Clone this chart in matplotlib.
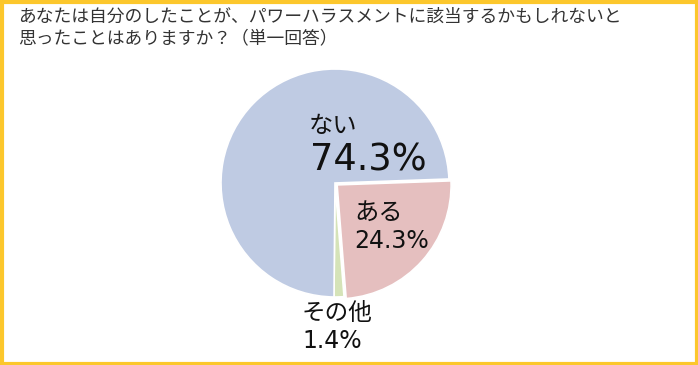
import matplotlib
matplotlib.use("Agg")
import matplotlib.pyplot as plt
from matplotlib.patches import Rectangle

plt.rcParams['font.family'] = ['Noto Sans CJK JP', 'DejaVu Sans']

title_lines = ["あなたは自分のしたことが、パワーハラスメントに該当するかもしれないと",
               "思ったことはありますか？（単一回答）"]
categories = ["その他", "ある", "ない"]
values = [1.4, 24.3, 74.3]
colors = ["#d5e3b8", "#e5bfbf", "#bfcbe3"]
explode = [0.0, 0.025, 0.0]

W, H = 698, 365
fig = plt.figure(figsize=(W / 100, H / 100), dpi=100)
fig.patch.set_facecolor("white")

# yellow frame
fig.patches.append(Rectangle((1.5 / W, 1.5 / H), 1 - 3 / W, 1 - 3 / H,
                             transform=fig.transFigure, fill=False,
                             edgecolor="#fcc72c", linewidth=3))

# title
fig.text(18 / W, 1 - 17 / H, title_lines[0], fontsize=12.8, color="#333333",
         ha="left", va="center")
fig.text(18 / W, 1 - 38 / H, title_lines[1], fontsize=12.8, color="#333333",
         ha="left", va="center")

cx, cy, r = 335, 183, 114
ax = fig.add_axes([(cx - r) / W, (H - cy - r) / H, 2 * r / W, 2 * r / H])
wedges, _ = ax.pie(values, colors=colors, explode=explode, startangle=-90.5,
                   counterclock=True,
                   wedgeprops=dict(edgecolor="white", linewidth=1.2))
ax.set_xlim(-1, 1)
ax.set_ylim(-1, 1)
ax.set_aspect("auto")
ax.axis("off")
for p in ax.patches:
    p.set_clip_on(False)

def ptxt(x, y_top, s, size, fam=None):
    kw = {}
    if fam:
        kw["family"] = fam
    fig.text(x / W, 1 - y_top / H, s, fontsize=size, color="#111111",
             ha="left", va="top", **kw)

lab = {c: v for c, v in zip(categories, values)}
num = ["DejaVu Sans"]
ptxt(309, 113, "ない", 17.5)
ptxt(310, 141, f"{lab['ない']:.1f}%", 26.5, num)
ptxt(354, 200, "ある", 17.5)
ptxt(354, 229, f"{lab['ある']:.1f}%", 17, num)
ptxt(302, 302, "その他", 17)
ptxt(302, 329, f"{lab['その他']:.1f}%", 17, num)

fig.savefig("out.png", dpi=100, facecolor="white")
